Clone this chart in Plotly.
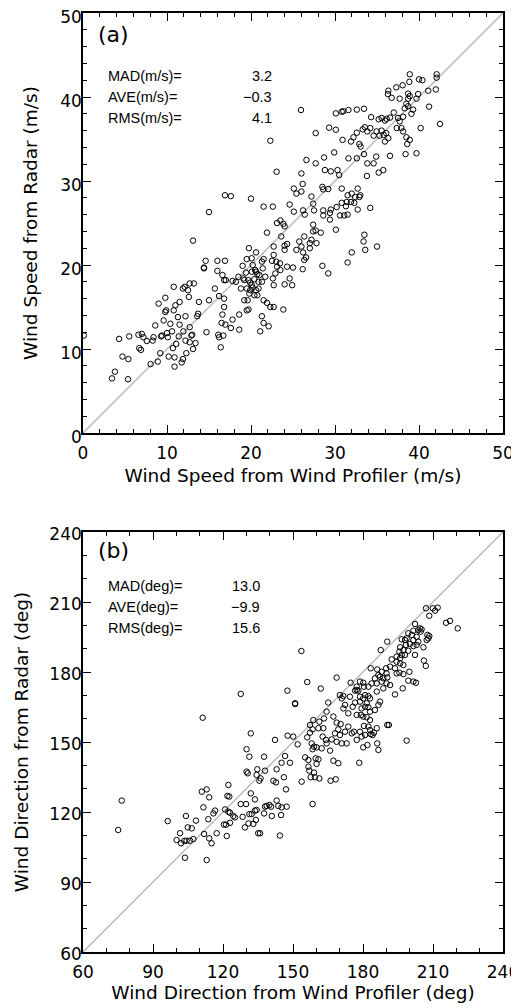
import plotly.graph_objects as go

# ---- panel (a): wind speed, profiler vs radar (m/s) ----
speed_profiler = [
  0.1, 3.45, 3.8, 4.3, 4.7, 5.36, 5.4, 5.5, 6.6, 6.7, 6.9, 7.0, 7.2, 7.6, 8.05, 8.3, 8.4, 8.6, 8.9, 9.0,
  9.2, 9.3, 9.4, 9.6, 9.8, 9.8, 9.9, 10.0, 10.1, 10.2, 10.4, 10.6, 10.7, 10.8, 10.8, 10.9, 10.9, 11.0, 11.1, 11.3,
  11.4, 11.5, 11.5, 11.75, 11.9, 11.9, 11.95, 12.1, 12.2, 12.2, 12.3, 12.5, 12.6, 12.7, 12.7, 12.7, 12.9, 13.0, 13.1, 13.2,
  13.1, 13.4, 13.6, 13.7, 13.8, 15.0, 14.6, 14.4, 14.4, 14.7, 15.0, 15.7, 16.0, 16.0, 16.1, 16.2, 16.2, 16.4, 16.5, 16.6,
  16.6, 16.7, 16.8, 16.8, 16.8, 16.9, 17.0, 16.95, 17.6, 17.8, 17.8, 18.2, 18.5, 18.6, 18.6, 18.8, 19.0, 19.1, 19.2, 19.4,
  19.5, 19.6, 19.75, 19.8,
  20.08, 20.08, 20.2, 20.4, 20.5, 20.6, 20.75, 21.0, 20.9, 20.4, 20.75, 20.6, 20.9, 20.1, 20.2, 20.6, 19.5, 19.7, 19.9, 19.5,
  19.9, 19.2, 19.7,
  21.5, 22.6, 24.6, 25.1, 26.2, 26.4, 27.4, 27.5, 28.6, 28.6, 29.4, 29.5, 29.4, 30.2, 30.8, 30.6, 31.1, 31.5, 31.3, 32.3,
  32.7, 34.2, 23.1, 23.5, 23.85, 24.0, 21.9, 23.6, 24.0, 24.3, 24.0, 22.7, 22.7, 22.5, 21.5, 21.3, 21.4, 21.7, 21.3, 22.6,
  22.7, 23.0, 23.1, 22.9, 23.45, 23.5, 24.3, 25.0, 24.0, 24.6, 24.9, 25.4, 25.75, 26.0, 26.2, 26.35, 26.35, 26.55, 26.15, 27.0,
  27.0, 27.2, 27.4, 27.4, 27.7, 27.8, 28.3, 28.5, 29.2, 30.1, 31.5, 32.0, 33.5, 33.4, 33.6, 35.0, 21.5, 21.9, 22.3, 22.7,
  23.85, 21.3, 21.5, 22.1, 21.1,
  38.9, 40.0, 40.4, 42.1, 42.1, 38.85, 38.05, 37.3, 36.35, 36.3, 36.75, 37.7, 38.7, 38.9, 38.7, 39.9, 39.7, 41.1, 42.0, 38.5,
  38.3, 38.7, 39.3, 39.1, 41.2, 42.5, 40.2, 37.0, 37.5, 38.1, 37.7, 37.35, 37.9, 38.1, 38.5, 38.9, 38.6, 38.4, 39.7, 36.55,
  36.15, 35.95, 35.55, 35.2, 34.3, 33.45, 32.6, 31.6, 31.0, 30.8, 30.1, 25.95, 27.7, 29.3, 30.1, 30.9, 31.9, 32.2, 32.6, 32.9,
  33.05, 33.3, 33.55, 33.85, 34.2, 34.6, 34.95, 35.3, 35.55, 35.8, 35.95, 36.35, 36.1, 29.9, 28.7, 27.7, 26.6, 26.0, 25.1, 25.4,
  26.15, 26.0, 28.5, 28.6, 29.2, 28.8, 29.5, 30.3, 30.5, 30.8, 31.5, 32.0, 32.7, 32.4, 32.9, 31.6, 32.6, 33.45, 33.85, 34.6,
  33.8, 34.9, 35.2, 35.75, 36.55, 27.2, 22.3, 23.05,
  16.9, 17.6, 20.0, 31.9, 33.0, 31.4,
]
speed_radar = [
  11.6, 6.5, 7.3, 11.2, 9.1, 6.4, 8.8, 11.5, 11.7, 10.1, 9.9, 11.8, 11.4, 10.95, 8.2, 11.0, 11.4, 12.8, 8.5, 15.4,
  9.5, 11.5, 11.6, 13.4, 14.4, 16.1, 14.6, 11.9, 11.4, 9.1, 13.0, 12.1, 10.1, 14.6, 17.4, 7.9, 9.0, 15.2, 10.6, 13.8,
  11.5, 15.6, 12.9, 8.4, 17.2, 8.8, 12.1, 17.4, 13.9, 11.0, 9.5, 17.0, 16.2, 12.6, 17.8, 10.8, 11.6, 11.7, 22.9, 17.8,
  10.0, 10.7, 13.9, 14.2, 15.6, 26.3, 20.5, 19.7, 19.6, 12.0, 15.8, 17.2, 20.5, 19.3, 11.7, 11.4, 16.3, 10.2, 13.1, 14.1,
  18.8, 11.6, 18.2, 16.0, 15.0, 20.5, 18.2, 12.9, 12.5, 13.5, 18.1, 18.0, 18.6, 12.3, 14.1, 17.2, 19.9, 18.4, 18.2, 19.1,
  14.6, 15.8, 22.0, 16.6,
  20.8, 17.6, 17.3, 18.3, 19.4, 19.2, 18.9, 18.8, 18.0, 16.4, 16.4, 17.0, 17.2, 19.2, 20.0, 21.5, 20.7, 18.2, 17.9, 17.2,
  17.0, 15.8, 14.7,
  26.95, 26.95, 27.2, 26.35, 26.5, 26.0, 27.3, 26.5, 26.5, 25.9, 26.2, 26.6, 25.4, 26.9, 27.4, 25.9, 25.9, 26.0, 27.0, 27.4,
  26.6, 26.8, 25.0, 25.3, 24.9, 24.6, 23.85, 23.4, 22.3, 22.5, 21.8, 22.2, 21.2, 20.5, 20.7, 20.4, 19.6, 18.6, 18.0, 18.4,
  17.6, 20.4, 19.8, 19.0, 20.2, 19.4, 19.8, 19.7, 17.7, 18.4, 17.6, 21.8, 22.8, 22.2, 21.5, 23.4, 20.6, 20.9, 19.5, 22.6,
  22.0, 23.0, 24.8, 24.0, 24.1, 22.6, 23.85, 19.9, 19.0, 24.2, 20.3, 21.5, 23.6, 22.8, 21.8, 22.2, 15.8, 15.5, 15.0, 15.0,
  14.7, 13.9, 13.1, 12.7, 12.1,
  42.7, 42.1, 42.0, 42.7, 42.3, 41.8, 41.4, 41.15, 40.75, 40.35, 39.9, 39.8, 40.4, 40.1, 39.8, 40.35, 39.8, 40.75, 40.9, 39.2,
  38.65, 38.9, 38.5, 38.0, 38.85, 36.8, 36.3, 38.15, 37.5, 37.65, 37.1, 36.3, 36.3, 35.9, 35.2, 34.9, 34.4, 33.2, 33.3, 37.55,
  37.4, 37.2, 37.5, 37.35, 37.6, 38.6, 38.5, 38.45, 38.3, 38.25, 38.05, 38.45, 35.7, 36.35, 36.1, 34.9, 34.7, 35.2, 35.75, 34.4,
  34.1, 36.15, 36.4, 35.9, 36.3, 35.4, 35.9, 35.4, 36.0, 35.5, 34.7, 35.1, 35.7, 33.4, 32.8, 32.1, 32.5, 30.9, 29.1, 28.5,
  29.65, 28.75, 29.3, 29.0, 29.05, 31.3, 31.15, 31.3, 30.7, 29.1, 28.3, 28.5, 29.1, 28.1, 28.1, 32.7, 32.7, 33.2, 32.1, 32.1,
  30.6, 32.9, 31.0, 31.3, 33.0, 28.15, 34.8, 31.1,
  28.3, 28.2, 27.9, 27.5, 28.3, 27.5,
]

# ---- panel (b): wind direction, profiler vs radar (deg) ----
dir_profiler = [
  75.1, 76.6, 96.3, 100.1, 101.6, 102.0, 103.4, 103.7, 104.1, 104.4, 104.9, 105.9, 106.6, 107.3, 108.4, 110.9, 111.6, 111.9, 113.0, 113.0,
  113.7, 114.1, 114.1, 115.1, 115.9, 116.6, 117.3, 120.4, 120.9, 121.3, 121.6, 121.9, 122.3, 122.7, 122.3, 123.0, 123.0, 124.4, 125.1, 127.6,
  128.4, 129.9, 130.1, 129.4, 130.1, 130.6, 131.3, 130.9, 131.3, 131.9, 131.9, 132.3, 133.0, 133.7, 133.7, 134.1, 134.4, 134.4, 134.7, 135.1,
  135.6, 111.3, 127.6,
  150.9, 137.6, 142.3, 146.6, 147.7, 150.1, 145.1, 148.7, 138.0, 143.0, 136.1, 141.6, 142.7, 146.1, 147.0, 138.7, 139.9, 138.0, 140.6, 143.0,
  143.7, 145.1, 147.3, 137.6, 140.9, 144.9, 135.9, 144.4, 152.0, 153.7, 155.2, 156.6, 156.6, 157.0, 159.0, 157.6, 159.4, 161.3, 160.1, 160.9,
  159.7, 158.4, 166.1, 168.3, 167.3, 169.4, 165.9, 156.1, 157.3, 158.4, 160.9, 163.0, 158.0, 159.0, 160.1, 158.4, 162.3, 164.1, 164.4, 157.3,
  158.7, 161.3, 163.3, 164.4, 162.7, 167.3, 168.7, 169.4, 168.0, 170.1, 166.6, 168.7, 170.9, 171.6, 172.3, 173.7, 175.6, 176.6, 170.4, 172.3,
  173.7, 175.2, 177.3, 176.1, 173.0, 177.3, 178.4,
  198.7, 186.6, 186.1, 185.9, 184.7, 184.1, 183.0, 181.9, 180.1, 179.4, 178.7, 180.9, 183.3, 182.3, 180.4,
  207.0, 209.9, 210.9, 212.0, 208.4, 215.6, 217.3, 220.6, 202.3, 204.4, 205.1, 203.7, 204.7, 201.6, 199.4, 200.9, 203.0, 198.7, 196.6, 198.0,
  201.6, 203.7, 207.6, 208.4, 208.0, 207.3, 190.4, 200.1, 198.4, 201.6, 203.0, 205.9, 187.6, 195.9, 197.3, 199.4, 195.6, 196.6, 198.0, 194.4,
  195.9, 202.3, 192.3, 194.4, 195.9, 197.3, 206.1, 206.9, 191.6, 193.7, 189.9, 186.1, 183.3, 188.0, 190.1, 186.6, 185.1, 187.3, 188.7, 190.4,
  194.4, 195.6, 197.3, 199.9, 188.0, 190.1, 185.9, 183.7, 182.3, 180.1, 180.4, 188.7, 191.6, 199.4, 201.6, 202.7, 197.0, 193.7, 174.7, 168.7,
  161.9, 156.1, 153.6, 177.3, 176.6, 178.0, 180.9, 182.3, 183.0, 180.1, 178.7, 185.9, 187.3, 186.6, 183.0, 185.1, 190.4, 191.1, 183.0, 179.1,
  180.1, 181.6, 179.4, 180.9, 182.3, 178.7, 181.6, 174.4, 171.6, 170.1, 170.9, 165.1, 178.7, 177.3,
  147.6, 150.9,
]
dir_radar = [
  112.3, 124.9, 116.1, 108.0, 110.9, 106.6, 107.6, 100.4, 118.3, 107.7, 113.4, 107.7, 113.0, 108.4, 116.3, 128.7, 122.0, 110.6, 99.4, 129.7,
  116.9, 126.3, 108.7, 106.6, 119.4, 120.6, 110.9, 114.6, 121.1, 114.6, 109.7, 126.9, 131.6, 126.6, 120.1, 119.7, 115.4, 118.3, 117.7, 123.4,
  117.9, 123.4, 146.9, 113.4, 137.3, 136.6, 143.7, 115.1, 119.1, 128.0, 153.7, 119.1, 114.9, 125.4, 120.6, 116.6, 120.9, 135.9, 138.3, 110.9,
  133.4, 160.4, 170.6,
  166.3, 143.7, 150.9, 144.0, 152.7, 152.3, 141.1, 141.1, 137.7, 138.3, 134.4, 133.4, 132.7, 134.9, 129.7, 122.6, 123.0, 122.3, 122.3, 124.9,
  122.6, 122.0, 122.3, 119.4, 118.3, 118.7, 110.9, 109.9, 149.0, 133.0, 143.4, 142.3, 139.4, 137.7, 136.9, 134.9, 134.9, 134.4, 140.6, 142.6,
  143.0, 123.4, 133.4, 134.0, 142.0, 140.9, 146.3, 152.0, 154.0, 155.4, 155.9, 155.9, 149.4, 148.0, 147.7, 146.9, 147.3, 150.9, 149.4, 157.3,
  159.4, 158.7, 160.1, 163.0, 152.3, 160.9, 158.3, 155.4, 153.7, 153.0, 151.1, 150.1, 149.4, 164.4, 165.9, 162.3, 165.1, 166.9, 157.7, 154.4,
  156.6, 153.7, 161.6, 154.4, 149.4, 150.9, 141.1,
  150.6, 146.6, 149.4, 155.9, 154.0, 153.0, 155.1, 148.7, 147.7, 152.3, 154.4, 153.0, 153.4, 156.6, 156.9,
  207.3, 207.3, 206.3, 207.6, 204.1, 201.1, 201.9, 198.7, 200.6, 198.7, 198.3, 198.0, 197.3, 197.7, 196.6, 195.9, 195.1, 194.4, 194.0, 193.7,
  193.7, 193.0, 195.9, 195.4, 194.4, 193.7, 193.0, 192.0, 191.6, 191.1, 191.6, 190.6, 189.4, 190.6, 189.4, 189.1, 188.7, 187.3, 187.3, 186.6,
  185.9, 187.3, 185.4, 184.4, 183.7, 183.0, 184.9, 182.6, 182.3, 181.6, 181.6, 181.1, 181.6, 180.1, 179.4, 178.7, 177.3, 178.0, 177.3, 177.7,
  179.4, 179.7, 179.1, 180.1, 175.9, 175.1, 175.1, 175.1, 173.7, 175.4, 173.7, 173.0, 174.4, 176.3, 175.9, 175.4, 173.0, 170.4, 175.4, 177.6,
  172.9, 175.7, 189.0, 172.3, 172.0, 172.0, 170.1, 169.7, 168.7, 168.7, 169.4, 171.6, 167.3, 165.9, 163.0, 163.7, 157.3, 157.3, 159.4, 161.6,
  160.9, 160.6, 164.4, 165.1, 164.9, 167.3, 166.6, 169.4, 169.7, 170.1, 168.7, 166.9, 175.9, 173.7,
  172.0, 166.6,
]

speed_ticks = [0, 10, 20, 30, 40, 50]
dir_ticks = [60, 90, 120, 150, 180, 210, 240]

stats_a_names = ['MAD(m/s)=', 'AVE(m/s)=', 'RMS(m/s)=']
stats_a_values = ['3.2', '\u22120.3', '4.1']
stats_b_names = ['MAD(deg)=', 'AVE(deg)=', 'RMS(deg)=']
stats_b_values = ['13.0', '\u22129.9', '15.6']

TICK_FONT = dict(family='DejaVu Sans', size=17, color='black')
TITLE_FONT = dict(family='DejaVu Sans', size=18.5, color='black')
TEXT_FONT = dict(family='Liberation Sans', size=14.5, color='black')


def axis_style(ticks, minor, title, domain, anchor, standoff, label_off, label_shift):
  return dict(
    domain=domain, anchor=anchor, automargin=False,
    range=[ticks[0], ticks[-1]], tickmode='array', tickvals=ticks,
    ticks='inside', ticklen=8, tickwidth=1.3, tickcolor='black',
    minor=dict(dtick=minor, tick0=ticks[0], ticks='inside', ticklen=4,
               tickwidth=1.1, tickcolor='black'),
    showline=True, linecolor='black', linewidth=1.6, mirror='allticks',
    showgrid=False, zeroline=False, tickfont=TICK_FONT,
    ticklabelstandoff=label_off, ticklabelshift=label_shift, ticklabeloverflow='allow',
    title=dict(text=title, font=TITLE_FONT, standoff=standoff),
  )


fig = go.Figure()

# one-to-one lines
fig.add_trace(go.Scatter(x=[speed_ticks[0], speed_ticks[-1]], y=[speed_ticks[0], speed_ticks[-1]],
                         mode='lines', line=dict(color='#b9b9b9', width=1.5),
                         xaxis='x', yaxis='y', hoverinfo='skip'))
fig.add_trace(go.Scatter(x=[dir_ticks[0], dir_ticks[-1]], y=[dir_ticks[0], dir_ticks[-1]],
                         mode='lines', line=dict(color='#b9b9b9', width=1.5),
                         xaxis='x2', yaxis='y2', hoverinfo='skip'))

marker = dict(symbol='circle-open', size=5.5, color='black', line=dict(width=1, color='black'))
fig.add_trace(go.Scatter(x=speed_profiler, y=speed_radar, mode='markers', marker=marker,
                         xaxis='x', yaxis='y'))
fig.add_trace(go.Scatter(x=dir_profiler, y=dir_radar, mode='markers', marker=marker,
                         xaxis='x2', yaxis='y2'))

# the page body adds an 8 px margin, so the figure is 8 px smaller and
# the panel edges (reference pixels) are shifted back by 8
PAGE = 8
W, H = 519 - PAGE, 1008 - PAGE


def xd(a, b):
  return [(a - PAGE) / W, (b - PAGE) / W]


def yd(top, bottom):
  return [1 - (bottom - PAGE) / H, 1 - (top - PAGE) / H]


fig.update_layout(
  width=W, height=H, margin=dict(l=0, r=0, t=0, b=0),
  paper_bgcolor='white', plot_bgcolor='white', showlegend=False,
  xaxis=axis_style(speed_ticks, 2, 'Wind Speed from Wind Profiler (m/s)', xd(83, 503), 'y', 7, 4, 0),
  yaxis=axis_style(speed_ticks, 2, 'Wind Speed from Radar (m/s)', yd(13, 433), 'x', 18, -4, 4),
  xaxis2=axis_style(dir_ticks, 10, 'Wind Direction from Wind Profiler (deg)', xd(83, 503), 'y2', 0, 4, 0),
  yaxis2=axis_style(dir_ticks, 10, 'Wind Direction from Radar (deg)', yd(532, 952), 'x2', 16, -4, 2),
)

annots = []
panels = [('x', 'y', '(a)', stats_a_names, stats_a_values, 0.95, [0.85, 0.80, 0.75], 0.455),
          ('x2', 'y2', '(b)', stats_b_names, stats_b_values, 0.957, [0.871, 0.821, 0.771], 0.425)]
for xa, ya, tag, names, values, tag_y, rows_y, val_x in panels:
  annots.append(dict(xref=xa + ' domain', yref=ya + ' domain', x=0.03, y=tag_y, text=tag,
                     showarrow=False, xanchor='left', yanchor='middle',
                     font=dict(family='DejaVu Sans', size=22, color='black')))
  for name, val, ry in zip(names, values, rows_y):
    annots.append(dict(xref=xa + ' domain', yref=ya + ' domain', x=0.055, y=ry, text=name,
                       showarrow=False, xanchor='left', yanchor='middle', font=TEXT_FONT))
    annots.append(dict(xref=xa + ' domain', yref=ya + ' domain', x=val_x, y=ry, text=val,
                       showarrow=False, xanchor='right', yanchor='middle', font=TEXT_FONT))
fig.update_layout(annotations=annots)

fig.write_html("out.html")
